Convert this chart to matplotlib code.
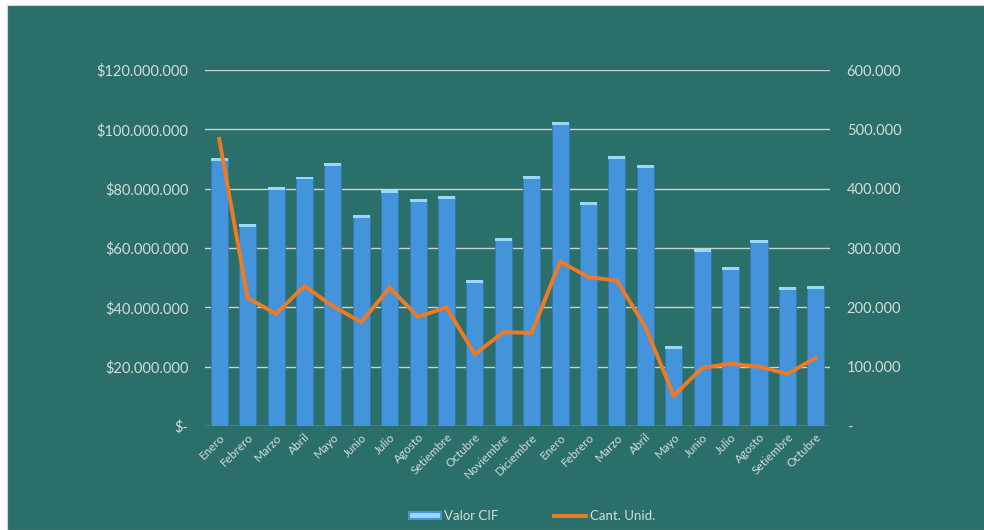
import matplotlib.pyplot as plt
from matplotlib.patches import Rectangle
from matplotlib.ticker import FuncFormatter

meses = ['Enero', 'Febrero', 'Marzo', 'Abril', 'Mayo', 'Junio', 'Julio', 'Agosto',
         'Setiembre', 'Octubre', 'Noviembre', 'Diciembre',
         'Enero', 'Febrero', 'Marzo', 'Abril', 'Mayo', 'Junio', 'Julio', 'Agosto',
         'Setiembre', 'Octubre']
valor_cif = [90.3, 68.1, 80.5, 84.0, 88.6, 71.1, 79.5, 76.5, 77.5, 49.2, 63.4, 84.3,
             102.5, 75.5, 91.0, 88.0, 27.0, 59.7, 53.6, 62.7, 46.8, 47.2]  # millones
cant_unid = [484, 216, 189, 236, 202, 175, 233, 184, 200, 121, 158, 157,
             277, 251, 245, 167, 51, 98, 105, 100, 88, 115]  # miles

teal = '#2a6f69'
txt = '#d4dcd9'
plt.rcParams['font.family'] = ['Lato', 'DejaVu Sans']

fig = plt.figure(figsize=(9.84, 5.30), dpi=100, facecolor='white')
fig.patches.append(Rectangle((7 / 984, 0), 1, 1 - 5 / 530, transform=fig.transFigure,
                             facecolor=teal, edgecolor='#cfd8d6', lw=0.8, zorder=-10))

ax = fig.add_axes([205 / 984, 1 - 426 / 530, 625 / 984, 356 / 530])
ax.set_facecolor('none')
x = list(range(len(meses)))
vals = [v * 1e6 for v in valor_cif]
bars = ax.bar(x, vals, width=0.6, color='#4494dc', edgecolor='#3577b8', lw=0.6, zorder=3)
# tapa superior mas clara
ax.bar(x, [0.9e6] * len(x), bottom=[v - 0.9e6 for v in vals], width=0.6,
       color='#9ad8f7', lw=0, zorder=4)

ax.set_ylim(0, 120e6)
ax.set_xlim(-0.5, len(x) - 0.5)
ax.set_yticks([i * 20e6 for i in range(7)])
ax.yaxis.set_major_formatter(FuncFormatter(
    lambda v, p: '$-' if v == 0 else '${:,.0f}'.format(v).replace(',', '.')))
ax.grid(axis='y', color='#c9d3d1', lw=1.0, zorder=1)
ax.set_axisbelow(True)
for s in ax.spines.values():
    s.set_visible(False)
ax.tick_params(axis='y', length=0, pad=12, labelsize=10.5, labelcolor=txt)
ax.tick_params(axis='x', length=0, pad=4, labelsize=8.5, labelcolor=txt)
ax.set_xticks(x)
ax.set_xticklabels(meses, rotation=45, ha='right', rotation_mode='anchor')

ax2 = ax.twinx()
ax2.plot(x, [c * 1000 for c in cant_unid], color='#f07a24', lw=2.8, zorder=5,
         solid_joinstyle='miter')
ax2.set_ylim(0, 600000)
ax2.set_yticks([i * 100000 for i in range(7)])
ax2.yaxis.set_major_formatter(FuncFormatter(
    lambda v, p: '-' if v == 0 else '{:,.0f}'.format(v).replace(',', '.')))
for s in ax2.spines.values():
    s.set_visible(False)
ax2.tick_params(axis='y', length=0, pad=12, labelsize=10.5, labelcolor=txt)

h1 = Rectangle((0, 0), 1, 1, facecolor='#9ad8f7', edgecolor='#4494dc', lw=1.5)
h2 = plt.Line2D([], [], color='#f07a24', lw=2.8)
fig.legend([h1, h2], ['Valor CIF', 'Cant. Unid.'], loc='center', bbox_to_anchor=(532 / 984, 1 - 516 / 530),
           ncol=2, frameon=False, fontsize=9.5, labelcolor=txt, handlelength=2.4,
           handleheight=0.5, columnspacing=4.2, handletextpad=0.3)

fig.savefig('out.png', dpi=100, facecolor=fig.get_facecolor())
